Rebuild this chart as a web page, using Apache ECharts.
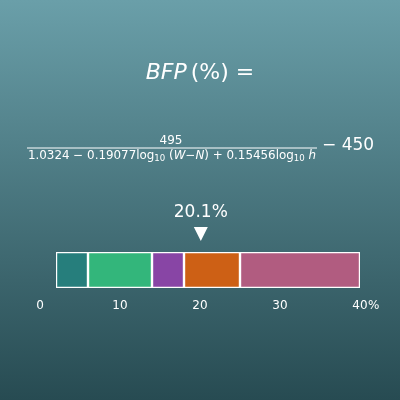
<!DOCTYPE html>
<html>
<head>
<meta charset="utf-8">
<script src="https://cdn.jsdelivr.net/npm/echarts@6/dist/echarts.min.js"></script>
<style>
  html, body { margin: 0; padding: 0; }
  #chart {
    width: 400px; height: 400px;
    background: linear-gradient(to bottom, #6a9fa9 0%, #274b52 100%);
  }
</style>
</head>
<body>
<div id="chart"></div>
<script>
// 数据
var categories = ['BFP'];
var rangeStarts = [2, 6, 14, 18, 25];
var rangeEnds = [6, 14, 18, 25, 40];
var rangeColors = ['#267e7c', '#33b67b', '#8845a5', '#cd6015', '#b15c80'];
var markerValue = [20.1];
var tickLabels = ['0', '10', '20', '30', '40'];

var chart = echarts.init(document.getElementById('chart'));

var font = 'DejaVu Sans';

// 透明底座 + 各区间
var series = [{
  type: 'bar',
  stack: 'r',
  data: [rangeStarts[0]],
  barWidth: 36,
  itemStyle: { color: 'transparent' },
  silent: true
}];
rangeStarts.forEach(function (s, i) {
  series.push({
    type: 'bar',
    stack: 'r',
    data: [rangeEnds[i] - s],
    barWidth: 36,
    itemStyle: { color: rangeColors[i], borderColor: '#ffffff', borderWidth: 1.2 }
  });
});
// 指示三角
series.push({
  type: 'scatter',
  data: [[markerValue[0], categories[0]]],
  symbol: 'triangle',
  symbolRotate: 180,
  symbolSize: [14, 14],
  symbolOffset: [0, -36],
  itemStyle: { color: '#ffffff', opacity: 1 },
  label: {
    show: true,
    position: 'top',
    distance: 6,
    formatter: markerValue[0] + '%',
    color: '#ffffff',
    fontSize: 17,
    fontFamily: font
  },
  z: 5
});

var option = {
  backgroundColor: 'transparent',
  animation: false,
  grid: { left: 40, right: 40, top: 252, bottom: 112 },
  xAxis: {
    type: 'value',
    min: 0, max: 40, interval: 10,
    axisLine: { show: false },
    axisTick: { show: false },
    splitLine: { show: false },
    axisLabel: {
      margin: 12,
      color: '#ffffff',
      fontSize: 12,
      fontFamily: font,
      formatter: function (v) { return tickLabels[v / 10]; }
    },
    name: '%',
    nameLocation: 'end',
    nameGap: 8,
    nameMoveOverlap: false,
    nameTextStyle: {
      color: '#ffffff', fontSize: 12, fontFamily: font,
      align: 'left', verticalAlign: 'top', padding: [12, 0, 0, 0]
    }
  },
  yAxis: {
    type: 'category',
    data: categories,
    show: false
  },
  graphic: [
    {
      type: 'text', left: 'center', top: 62,
      style: {
        text: '{i|BFP}{n|(%) =}',
        fill: '#ffffff',
        rich: {
          i: { fontSize: 22, fontStyle: 'italic', fontFamily: font, fill: '#ffffff', padding: [0, 4, 0, 0] },
          n: { fontSize: 22, fontFamily: font, fill: '#ffffff' }
        }
      }
    },
    {
      type: 'text', x: 171, y: 141,
      style: { text: '495', fill: '#ffffff', fontSize: 12, fontFamily: font, align: 'center', verticalAlign: 'middle' }
    },
    {
      type: 'line', shape: { x1: 27, y1: 148, x2: 317, y2: 148 },
      style: { stroke: '#ffffff', lineWidth: 1 }
    },
    {
      type: 'text', x: 172, y: 156,
      style: {
        text: '{n|1.0324 − 0.19077log}{s|10}{n| (}{i|W}{n|−}{i|N}{n|) + 0.15456log}{s|10}{i| h}',
        align: 'center', verticalAlign: 'middle',
        fill: '#ffffff',
        rich: {
          n: { fontSize: 11.9, fontFamily: font, fill: '#ffffff' },
          i: { fontSize: 11.9, fontFamily: font, fontStyle: 'italic', fill: '#ffffff' },
          s: { fontSize: 8.6, fontFamily: font, fill: '#ffffff', padding: [6, 0, 0, 0] }
        }
      }
    },
    {
      type: 'text', x: 322, y: 146,
      style: { text: '− 450', fill: '#ffffff', fontSize: 17, fontFamily: font, align: 'left', verticalAlign: 'middle' }
    }
  ],
  series: series
};

chart.setOption(option);
</script>
</body>
</html>
